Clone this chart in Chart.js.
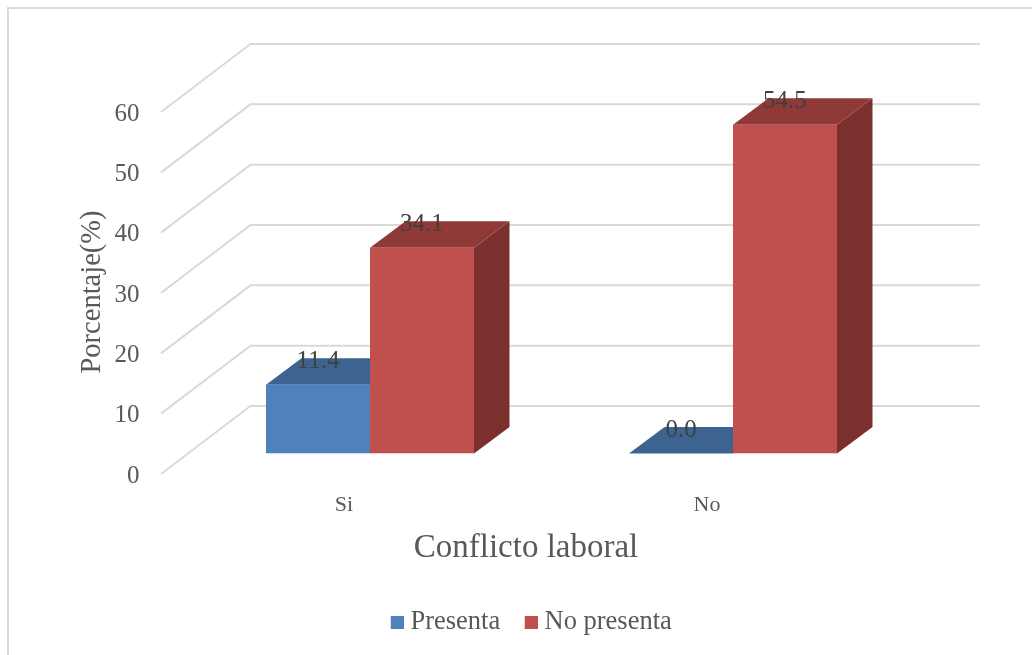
<!DOCTYPE html>
<html>
<head>
<meta charset="utf-8">
<style>
  html, body { margin: 0; padding: 0; background: #fff; }
  #wrap { width: 1032px; height: 655px; }
</style>
<script src="https://cdn.jsdelivr.net/npm/chart.js@4/dist/chart.umd.min.js"></script>
</head>
<body>
<div id="wrap"><canvas id="chartConflicto" width="1032" height="655"></canvas></div>
<script>
var categorias = ['Si', 'No'];
var presenta = [11.4, 0.0];
var noPresenta = [34.1, 54.5];
var yTicks = [0, 10, 20, 30, 40, 50, 60];

var serif = '"Liberation Serif", serif';

// profundidad de las barras y de las paredes del grafico
var barDepth = { dx: 35.5, dy: -26.5 };
var wallBack = { left: 62, right: 65.5, dy: -47.5 };
var wallFront = { dx: -27.5, dy: 20.5 };
var colorFront = ['#4f81bd', '#c0504d'];
var colorTop = ['#3d6390', '#903a38'];
var colorSide = ['#325277', '#7c302e'];

function poly(ctx, pts, color) {
    ctx.fillStyle = color;
    ctx.beginPath();
    ctx.moveTo(pts[0][0], pts[0][1]);
    for (var i = 1; i < pts.length; i++) ctx.lineTo(pts[i][0], pts[i][1]);
    ctx.closePath();
    ctx.fill();
}

// muestra de la leyenda: el cuadro va pegado al texto, a la derecha del lienzo
function muestra(color) {
    var c = document.createElement('canvas');
    c.width = 33;
    c.height = 13;
    var g = c.getContext('2d');
    g.fillStyle = color;
    g.fillRect(20, 0, 13, 13);
    return c;
}

var efecto3d = {
    id: 'efecto3d',
    beforeDraw: function (chart) {
        var ctx = chart.ctx;
        // marco exterior, solo arriba y a la izquierda
        ctx.save();
        ctx.strokeStyle = '#d9d9d9';
        ctx.lineWidth = 2;
        ctx.beginPath();
        ctx.moveTo(8, 655);
        ctx.lineTo(8, 8);
        ctx.lineTo(1032, 8);
        ctx.stroke();
        ctx.restore();
    },
    beforeDatasetsDraw: function (chart) {
        var ctx = chart.ctx, a = chart.chartArea, y = chart.scales.y;
        ctx.save();
        // rejilla: pared lateral y pared del fondo
        ctx.strokeStyle = '#d9d9d9';
        ctx.lineWidth = 2;
        yTicks.forEach(function (t) {
            var py = y.getPixelForValue(t);
            ctx.beginPath();
            ctx.moveTo(a.left + wallFront.dx, py + wallFront.dy);
            ctx.lineTo(a.left + wallBack.left, py + wallBack.dy);
            ctx.lineTo(a.right + wallBack.right, py + wallBack.dy);
            ctx.stroke();
        });
        // caras superior y lateral de cada barra
        chart.data.datasets.forEach(function (ds, i) {
            chart.getDatasetMeta(i).data.forEach(function (bar) {
                var l = bar.x - bar.width / 2, r = bar.x + bar.width / 2;
                var d = barDepth;
                poly(ctx, [[r, bar.y], [r + d.dx, bar.y + d.dy], [r + d.dx, bar.base + d.dy], [r, bar.base]], colorSide[i]);
                poly(ctx, [[l, bar.y], [r, bar.y], [r + d.dx, bar.y + d.dy], [l + d.dx, bar.y + d.dy]], colorTop[i]);
            });
        });
        ctx.restore();
    },
    afterDatasetsDraw: function (chart) {
        var ctx = chart.ctx, a = chart.chartArea;
        ctx.save();
        // valores sobre las barras
        ctx.font = '25px ' + serif;
        ctx.fillStyle = '#404040';
        ctx.textAlign = 'center';
        ctx.textBaseline = 'middle';
        chart.data.datasets.forEach(function (ds, i) {
            chart.getDatasetMeta(i).data.forEach(function (bar, j) {
                ctx.fillText(ds.data[j].toFixed(1), bar.x, bar.y - 23);
            });
        });
        // titulos de los ejes
        ctx.fillStyle = '#595959';
        ctx.font = '33px ' + serif;
        ctx.fillText('Conflicto laboral', a.left + 337.5, a.bottom + 95);
        ctx.translate(93, a.top + 200.5);
        ctx.rotate(-Math.PI / 2);
        ctx.font = '28.5px ' + serif;
        ctx.fillText('Porcentaje(%)', 0, 0);
        ctx.restore();
    }
};

var graficoConflicto = new Chart(document.getElementById('chartConflicto'), {
    type: 'bar',
    data: {
        labels: categorias,
        datasets: [
            { label: 'Presenta', data: presenta, backgroundColor: colorFront[0], pointStyle: muestra(colorFront[0]), categoryPercentage: 0.573, barPercentage: 1 },
            { label: 'No presenta', data: noPresenta, backgroundColor: colorFront[1], pointStyle: muestra(colorFront[1]), categoryPercentage: 0.573, barPercentage: 1 }
        ]
    },
    plugins: [efecto3d],
    options: {
        responsive: false,
        animation: false,
        layout: { padding: { left: 17, right: 0, top: 91.5, bottom: 9.5 } },
        plugins: {
            tooltip: { enabled: false },
            legend: {
                position: 'bottom',
                labels: {
                    usePointStyle: true,
                    pointStyleWidth: 20,
                    boxHeight: 13,
                    padding: 11,
                    color: '#595959',
                    font: { family: serif, size: 26.5 }
                }
            }
        },
        scales: {
            x: {
                grid: { display: false, drawTicks: false },
                border: { display: false },
                afterFit: function (s) { s.height = 144.5; },
                ticks: {
                    labelOffset: -26,
                    padding: 39,
                    color: '#595959',
                    font: { family: serif, size: 22 }
                }
            },
            y: {
                min: 0,
                max: 60,
                grid: { display: false, drawTicks: false },
                border: { display: false },
                afterFit: function (s) { s.width = 171.5; },
                afterBuildTicks: function (s) { s.ticks = yTicks.map(function (v) { return { value: v }; }); },
                ticks: {
                    labelOffset: 22.5,
                    padding: 49,
                    color: '#595959',
                    font: { family: serif, size: 25 }
                }
            },
            // reserva el margen derecho sin mover la leyenda
            margen: {
                position: 'right',
                grid: { display: false, drawTicks: false },
                border: { display: false },
                ticks: { display: false },
                afterFit: function (s) { s.width = 117.5; }
            }
        }
    }
});
</script>
</body>
</html>
